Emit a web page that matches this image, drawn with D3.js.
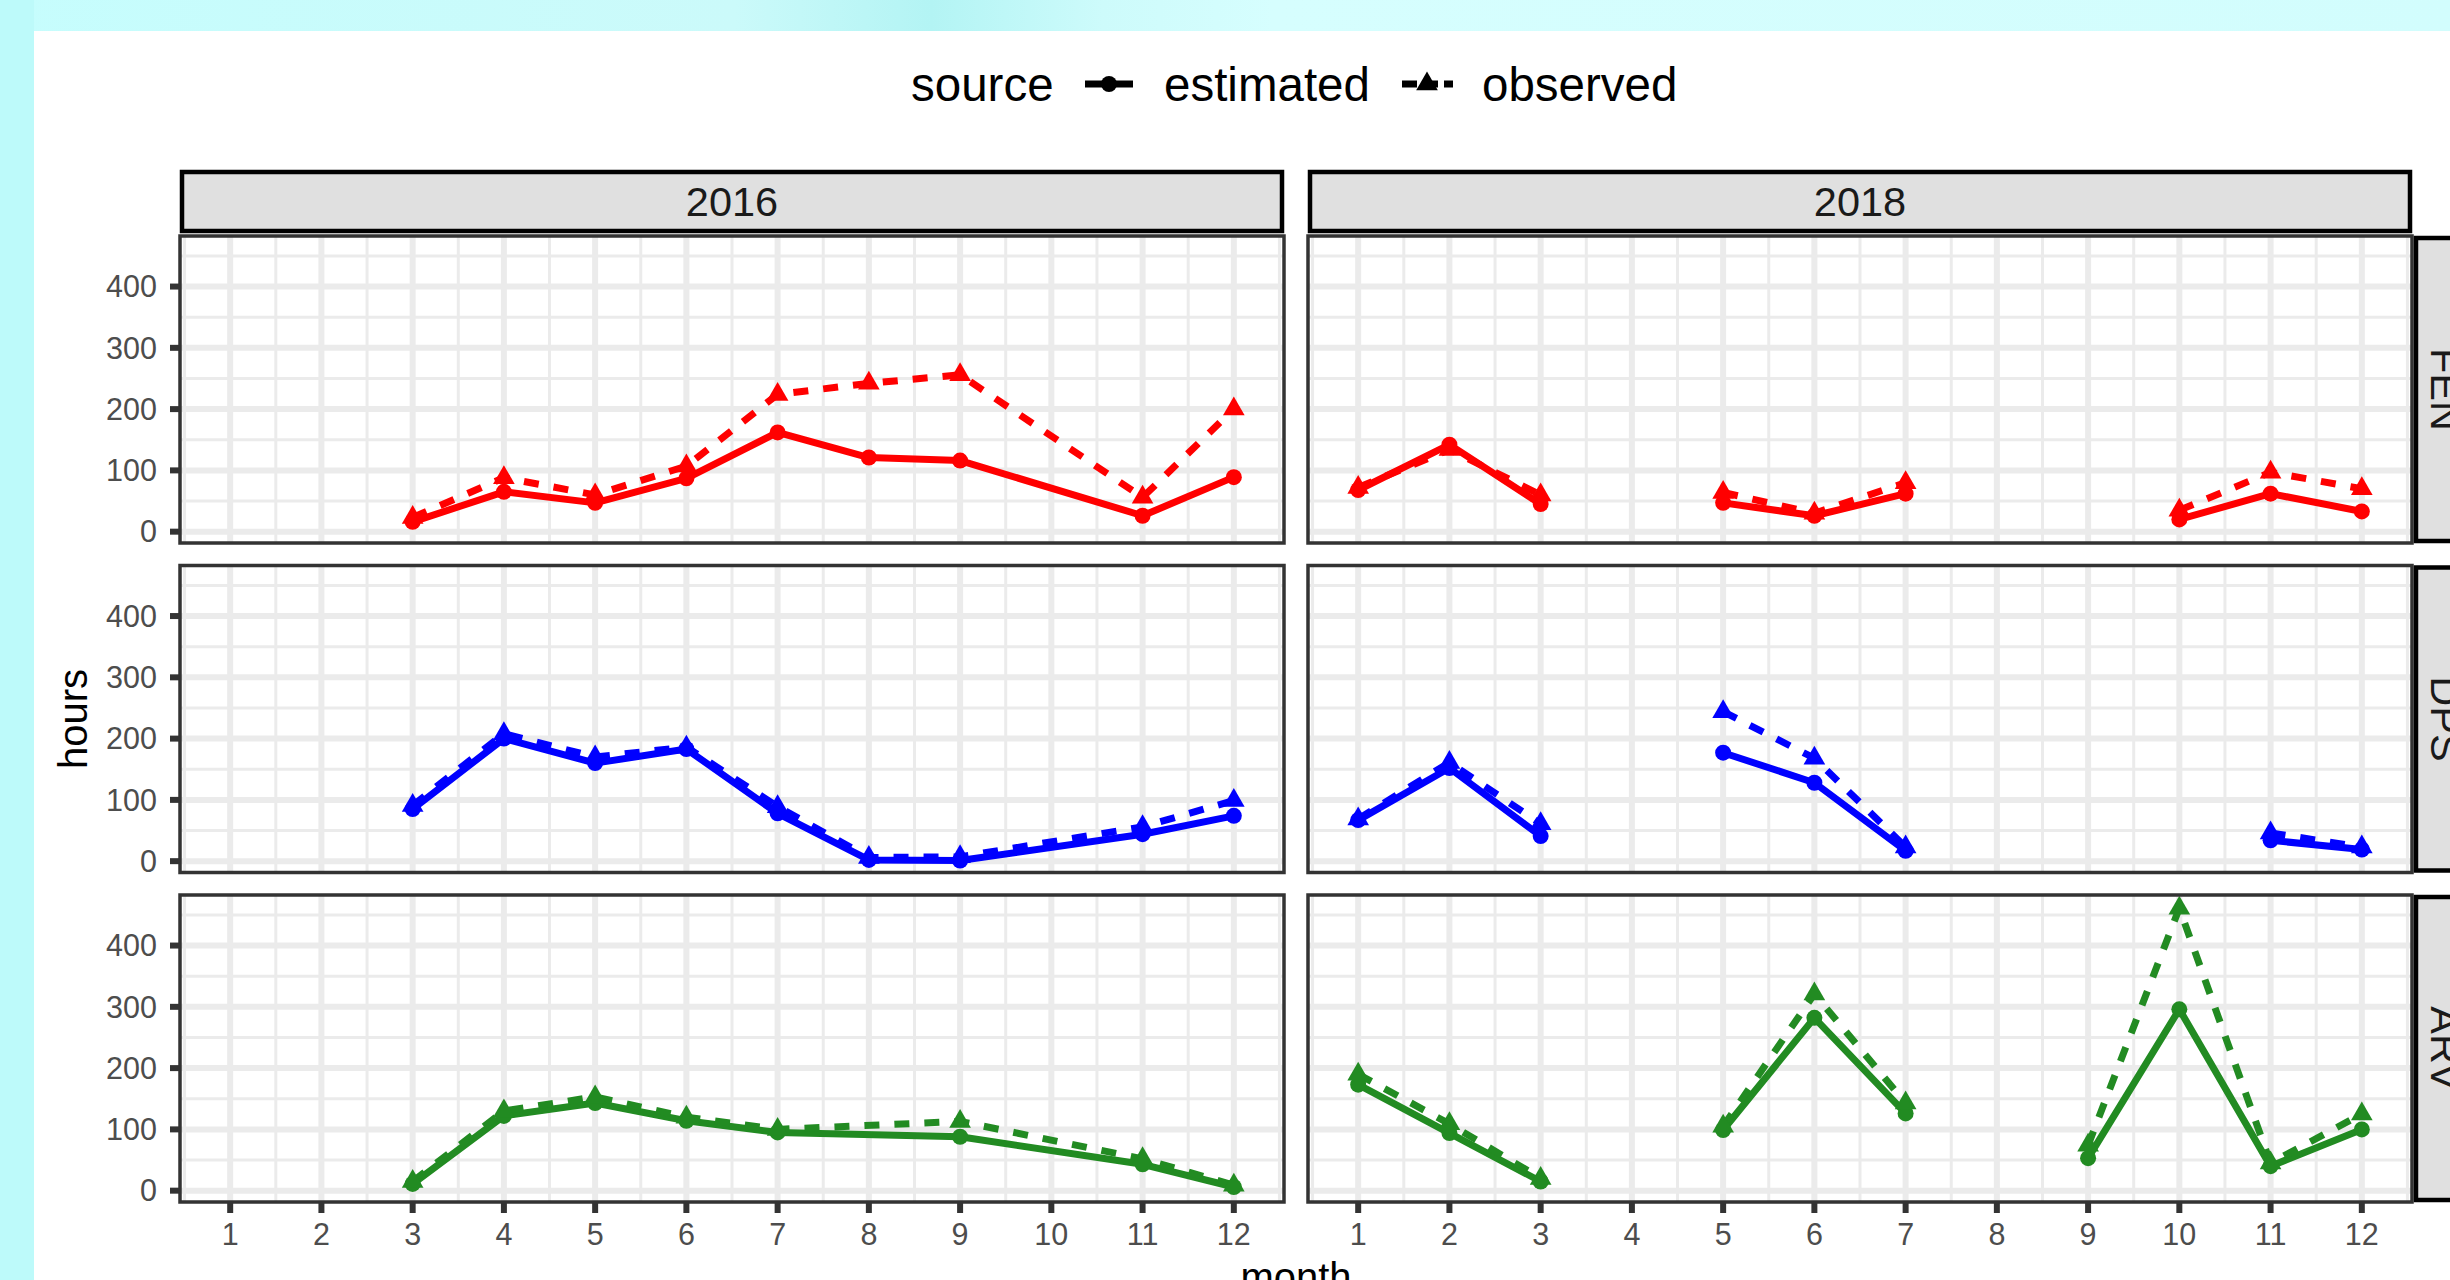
<!DOCTYPE html>
<html lang="en">
<head>
    <meta charset="UTF-8">
    <title>Hours by month</title>
    <style>
        body { margin: 0; }
        svg { display: block; font-family: "Liberation Sans", Arial, sans-serif; }
        .grid-major { stroke: #ebebeb; stroke-width: 6; }
        .grid-minor { stroke: #ebebeb; stroke-width: 3; }
        .tick { stroke: #333333; stroke-width: 6; }
        .tick-label { font-size: 30.5px; fill: #4d4d4d; }
        .strip-label { font-size: 41.5px; fill: #1a1a1a; }
        .axis-title { font-size: 40px; fill: #000; }
        .legend-text { font-size: 47.5px; fill: #000; }
    </style>
</head>
<body>
    <svg width="2450" height="1280"></svg>
    <script src="https://d3js.org/d3.v7.min.js"></script>
    <script>
        // facets
        const years = ["2016", "2018"];
        const sites = ["FEN", "DPS", "ARV"];
        const monthTicks = [1, 2, 3, 4, 5, 6, 7, 8, 9, 10, 11, 12];
        const hourTicks = [0, 100, 200, 300, 400];

        // 2016: months with data (missing months are simply absent)
        const fen2016Months = [3, 4, 5, 6, 7, 8, 9, 11, 12];
        const fen2016Est = [16, 65, 47, 87, 162, 121, 116, 26, 89];
        const fen2016Obs = [23, 88, 60, 107, 224, 242, 256, 56, 200];

        const dps2016Months = [3, 4, 5, 6, 7, 8, 9, 11, 12];
        const dps2016Est = [85, 200, 160, 183, 78, 2, 1, 44, 74];
        const dps2016Obs = [91, 208, 170, 186, 89, 6, 7, 56, 99];

        const arv2016Months = [3, 4, 5, 6, 7, 9, 11, 12];
        const arv2016Est = [11, 122, 143, 114, 95, 88, 43, 6];
        const arv2016Obs = [15, 130, 153, 120, 100, 113, 52, 9];

        // 2018: every month, null = NA (breaks the line)
        const months2018 = [1, 2, 3, 4, 5, 6, 7, 8, 9, 10, 11, 12];
        const fen2018Est = [68, 142, 45, null, 47, 26, 62, null, null, 20, 62, 33];
        const fen2018Obs = [72, 134, 60, null, 64, 30, 80, null, null, 35, 97, 70];

        const dps2018Est = [67, 152, 41, null, 177, 128, 17, null, null, null, 34, 19];
        const dps2018Obs = [69, 161, 61, null, 244, 168, 23, null, null, null, 46, 23];

        const arv2018Est = [173, 94, 15, null, 99, 282, 126, null, 53, 296, 40, 100];
        const arv2018Obs = [190, 109, 20, null, 105, 321, 143, null, 74, 461, 45, 125];

        const siteColor = { FEN: "#ff0000", DPS: "#0000ff", ARV: "#228b22" };

        const panels = [
            { site: "FEN", year: "2016", months: fen2016Months, est: fen2016Est, obs: fen2016Obs },
            { site: "FEN", year: "2018", months: months2018, est: fen2018Est, obs: fen2018Obs },
            { site: "DPS", year: "2016", months: dps2016Months, est: dps2016Est, obs: dps2016Obs },
            { site: "DPS", year: "2018", months: months2018, est: dps2018Est, obs: dps2018Obs },
            { site: "ARV", year: "2016", months: arv2016Months, est: arv2016Est, obs: arv2016Obs },
            { site: "ARV", year: "2018", months: months2018, est: arv2018Est, obs: arv2018Obs }
        ];

        const svg = d3.select("svg");

        // backdrop
        const defs = svg.append("defs");
        const grad = defs.append("linearGradient").attr("id", "bg");
        [["0%", "#c6fdfd"], ["30%", "#cbfafa"], ["38%", "#b3f4f4"], ["45%", "#cdfbfb"],
         ["52%", "#d6fefe"], ["100%", "#d2fdfd"]].forEach(s =>
            grad.append("stop").attr("offset", s[0]).attr("stop-color", s[1]));
        svg.append("rect").attr("width", 2450).attr("height", 1280).attr("fill", "url(#bg)");
        svg.append("rect").attr("x", 0).attr("y", 0).attr("width", 34).attr("height", 1280).attr("fill", "#bdfafa");
        svg.append("rect").attr("x", 34).attr("y", 31).attr("width", 2416).attr("height", 1249).attr("fill", "#fff");

        const colX = [180, 1308], panelW = 1104;
        const rowY = [236, 565.5, 895], panelH = 307;

        const x = d3.scaleLinear().domain([0.45, 12.55]).range([0, panelW]);
        const y = d3.scaleLinear().domain([-18.5, 482.5]).range([panelH, 0]);

        const xMinor = d3.range(0.5, 12.6, 1);
        const yMinor = [50, 150, 250, 350, 450];

        const line = d3.line()
            .defined(d => d.v != null)
            .x(d => x(d.m))
            .y(d => y(d.v));

        const circle = d3.symbol(d3.symbolCircle, 201);
        const triangle = d3.symbol(d3.symbolTriangle, 203);

        panels.forEach(p => {
            const r = sites.indexOf(p.site), c = years.indexOf(p.year);
            const g = svg.append("g").attr("transform", `translate(${colX[c]},${rowY[r]})`);
            const col = siteColor[p.site];

            g.append("rect").attr("width", panelW).attr("height", panelH).attr("fill", "#fff");

            g.selectAll(".gxm").data(xMinor).enter().append("line")
                .attr("class", "grid-minor")
                .attr("x1", d => x(d)).attr("x2", d => x(d)).attr("y1", 0).attr("y2", panelH);
            g.selectAll(".gym").data(yMinor).enter().append("line")
                .attr("class", "grid-minor")
                .attr("x1", 0).attr("x2", panelW).attr("y1", d => y(d)).attr("y2", d => y(d));
            g.selectAll(".gx").data(monthTicks).enter().append("line")
                .attr("class", "grid-major")
                .attr("x1", d => x(d)).attr("x2", d => x(d)).attr("y1", 0).attr("y2", panelH);
            g.selectAll(".gy").data(hourTicks).enter().append("line")
                .attr("class", "grid-major")
                .attr("x1", 0).attr("x2", panelW).attr("y1", d => y(d)).attr("y2", d => y(d));

            const est = p.months.map((m, i) => ({ m: m, v: p.est[i] }));
            const obs = p.months.map((m, i) => ({ m: m, v: p.obs[i] }));

            g.append("path").datum(est).attr("d", line)
                .attr("fill", "none").attr("stroke", col).attr("stroke-width", 7)
                .attr("stroke-linejoin", "round");
            g.append("path").datum(obs).attr("d", line)
                .attr("fill", "none").attr("stroke", col).attr("stroke-width", 7)
                .attr("stroke-dasharray", "15,15");

            g.selectAll(".pe").data(est.filter(d => d.v != null)).enter().append("path")
                .attr("d", circle)
                .attr("transform", d => `translate(${x(d.m)},${y(d.v)})`)
                .attr("fill", col);
            g.selectAll(".po").data(obs.filter(d => d.v != null)).enter().append("path")
                .attr("d", triangle)
                .attr("transform", d => `translate(${x(d.m)},${y(d.v)})`)
                .attr("fill", col);

            g.append("rect").attr("width", panelW).attr("height", panelH)
                .attr("fill", "none").attr("stroke", "#333333").attr("stroke-width", 3.5);

            // left axis
            if (c === 0) {
                g.selectAll(".yt").data(hourTicks).enter().append("line")
                    .attr("class", "tick")
                    .attr("x1", -10).attr("x2", -1).attr("y1", d => y(d)).attr("y2", d => y(d));
                g.selectAll(".yl").data(hourTicks).enter().append("text")
                    .attr("class", "tick-label")
                    .attr("x", -23).attr("y", d => y(d)).attr("dy", "0.35em")
                    .attr("text-anchor", "end")
                    .text(d => d);
            }
            // bottom axis
            if (r === sites.length - 1) {
                g.selectAll(".xt").data(monthTicks).enter().append("line")
                    .attr("class", "tick")
                    .attr("x1", d => x(d)).attr("x2", d => x(d)).attr("y1", panelH + 1).attr("y2", panelH + 11);
                g.selectAll(".xl").data(monthTicks).enter().append("text")
                    .attr("class", "tick-label")
                    .attr("x", d => x(d)).attr("y", panelH + 32).attr("dy", "0.35em")
                    .attr("text-anchor", "middle")
                    .text(d => d);
            }
        });

        // top strips
        years.forEach((yr, c) => {
            svg.append("rect").attr("x", colX[c] + 2).attr("y", 172)
                .attr("width", panelW - 4).attr("height", 59)
                .attr("fill", "#e0e0e0").attr("stroke", "#000").attr("stroke-width", 4.5);
            svg.append("text").attr("class", "strip-label")
                .attr("x", colX[c] + panelW / 2).attr("y", 201.5).attr("dy", "0.35em")
                .attr("text-anchor", "middle").text(yr);
        });

        // right strips (clipped by the page edge, as in the original)
        sites.forEach((s, r) => {
            svg.append("rect").attr("x", 2416).attr("y", rowY[r] + 2)
                .attr("width", 60).attr("height", panelH - 4)
                .attr("fill", "#e0e0e0").attr("stroke", "#000").attr("stroke-width", 4.5);
            svg.append("text").attr("class", "strip-label")
                .attr("transform", `translate(2446,${rowY[r] + panelH / 2}) rotate(90)`)
                .attr("dy", "0.35em").attr("text-anchor", "middle").text(s);
        });

        // axis titles
        svg.append("text").attr("class", "axis-title")
            .attr("transform", `translate(87,${(rowY[0] + rowY[2] + panelH) / 2}) rotate(-90)`)
            .attr("text-anchor", "middle").text("hours");
        svg.append("text").attr("class", "axis-title")
            .attr("x", (colX[0] + colX[1] + panelW) / 2).attr("y", 1291)
            .attr("text-anchor", "middle").text("month");

        // legend
        const lg = svg.append("g");
        lg.append("text").attr("class", "legend-text").attr("x", 911).attr("y", 101).text("source");
        lg.append("line").attr("x1", 1085).attr("x2", 1133).attr("y1", 84).attr("y2", 84)
            .attr("stroke", "#000").attr("stroke-width", 7);
        lg.append("path").attr("d", circle).attr("transform", "translate(1109,84)").attr("fill", "#000");
        lg.append("text").attr("class", "legend-text").attr("x", 1164).attr("y", 101).text("estimated");
        lg.append("line").attr("x1", 1402).attr("x2", 1453).attr("y1", 84).attr("y2", 84)
            .attr("stroke", "#000").attr("stroke-width", 7).attr("stroke-dasharray", "15,6");
        lg.append("path").attr("d", triangle).attr("transform", "translate(1427,84)").attr("fill", "#000");
        lg.append("text").attr("class", "legend-text").attr("x", 1482).attr("y", 101).text("observed");
    </script>
